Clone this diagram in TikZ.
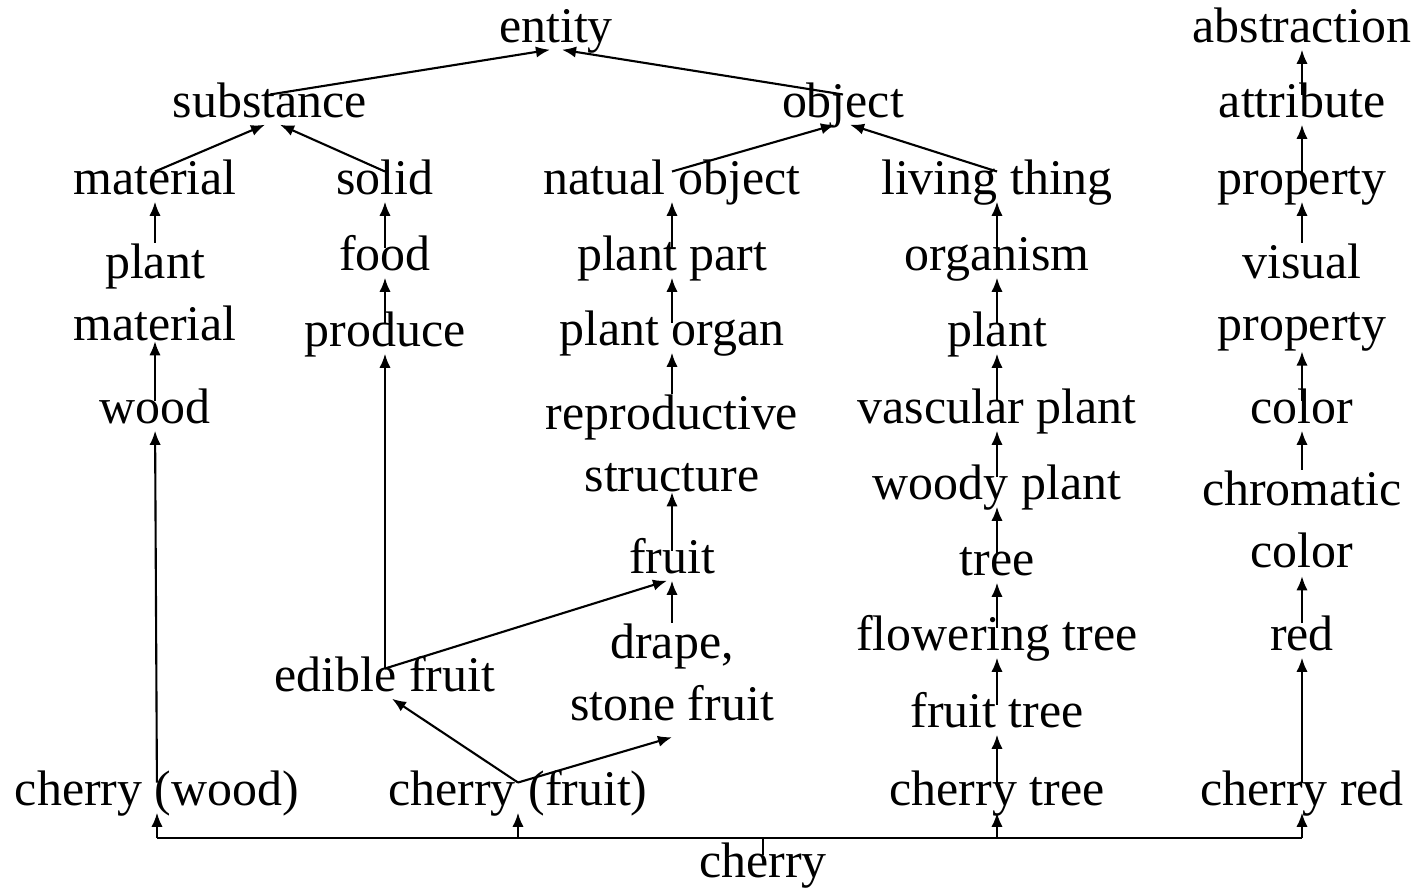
\documentclass[tikz,border=0pt]{standalone}
\usepackage{fontspec}
\setmainfont{Liberation Serif}
\usetikzlibrary{arrows.meta}
\newcommand\termfont{\fontsize{14.2}{17.6}\selectfont}
\tikzset{
	term/.style={font=\termfont,inner sep=0pt,anchor=base,align=center,text height=0.62em,text depth=0.2em},
	twoline/.style={text height={},text depth={}}
}

\begin{document}
\begin{tikzpicture}
			\useasboundingbox (0,0) rectangle (14.2,-8.92);
			\begin{scope}[every node/.style={term}]
				\node (entity) at (5.56,-0.42) {entity};
				\node (abstr) at (13.02,-0.42) {abstraction};
				\node (subst) at (2.70,-1.17) {substance};
				\node (object) at (8.43,-1.17) {object};
				\node (attr) at (13.02,-1.17) {attribute};
				% row 3
				\node (mat) at (1.55,-1.94) {material};
				\node (solid) at (3.85,-1.94) {solid};
				\node (natobj) at (6.72,-1.94) {natual object};
				\node (living) at (9.97,-1.94) {living thing};
				\node (prop) at (13.02,-1.94) {property};
				% column 1
				\node [twoline] (plantmat) at (1.55,-3.40) {plant\\material};
				\node (wood) at (1.55,-4.23) {wood};
				% column 2
				\node (food) at (3.85,-2.70) {food};
				\node (produce) at (3.85,-3.46) {produce};
				\node (edible) at (3.85,-6.91) {edible fruit};
				% column 3
				\node (ppart) at (6.72,-2.70) {plant part};
				\node (porgan) at (6.72,-3.45) {plant organ};
				\node [twoline] (repro) at (6.72,-4.91) {reproductive\\structure};
				\node (fruit) at (6.72,-5.73) {fruit};
				\node [twoline] (drupe) at (6.72,-7.20) {drape,\\stone fruit};
				% column 4
				\node (organism) at (9.97,-2.70) {organism};
				\node (plant) at (9.97,-3.46) {plant};
				\node (vasc) at (9.97,-4.23) {vascular plant};
				\node (woody) at (9.97,-4.99) {woody plant};
				\node (tree) at (9.97,-5.75) {tree};
				\node (flower) at (9.97,-6.50) {flowering tree};
				\node (ftree) at (9.97,-7.27) {fruit tree};
				% column 5
				\node [twoline] (visprop) at (13.02,-3.40) {visual\\property};
				\node (color) at (13.02,-4.23) {color};
				\node [twoline] (chroma) at (13.02,-5.67) {chromatic\\color};
				\node (red) at (13.02,-6.50) {red};
				% cherry senses
				\node (cwood) at (1.57,-8.05) {cherry (wood)};
				\node (cfruit) at (5.18,-8.05) {cherry (fruit)};
				\node (ctree) at (9.97,-8.05) {cherry tree};
				\node (cred) at (13.02,-8.05) {cherry red};
				\node (cherry) at (7.63,-8.77) {cherry};
			\end{scope}
			
			\coordinate (bus) at (0,-8.38);
			
			\begin{scope}[every edge/.style={draw=black,line width=0.6pt},>={Latex[length=4pt,width=3.2pt]}]
				\path [->] (subst.north) edge ([xshift=-0.06cm]entity.south);
				\path [->] (object.north) edge ([xshift=0.06cm]entity.south);
				\path [->] (mat.north) edge ([xshift=-0.05cm]subst.south);
				\path [->] (solid.north) edge ([xshift=0.10cm]subst.south);
				\path [->] (natobj.north) edge ([xshift=-0.08cm]object.south);
				\path [->] (living.north) edge ([xshift=0.07cm]object.south);
				\path [->] (attr) edge (abstr);
				\path [->] (prop) edge (attr);
				% vertical chains
				\path [->] (plantmat) edge (mat);
				\path [->] (wood) edge (plantmat);
				\path [->] (food) edge (solid);
				\path [->] (produce) edge (food);
				\path [->] (ppart) edge (natobj);
				\path [->] (porgan) edge (ppart);
				\path [->] (repro) edge (porgan);
				\path [->] (fruit) edge (repro);
				\path [->] (drupe) edge (fruit);
				\path [->] (organism) edge (living);
				\path [->] (plant) edge (organism);
				\path [->] (vasc) edge (plant);
				\path [->] (woody) edge (vasc);
				\path [->] (tree) edge (woody);
				\path [->] (flower) edge (tree);
				\path [->] (ftree) edge (flower);
				\path [->] (ctree) edge (ftree);
				\path [->] (visprop) edge (prop);
				\path [->] (color) edge (visprop);
				\path [->] (chroma) edge (color);
				\path [->] ([yshift=0.05cm]red.north) edge ([yshift=-0.08cm]chroma.south);
				\path [->] (cred) edge (red);
				\path [->] (cwood) edge (wood);
				% edible fruit and cherry (fruit)
				\path [->] (edible.north) edge (produce.south);
				\path [->] (edible.north) edge ([xshift=-0.05cm]fruit.south);
				\path [->] (cfruit.north) edge ([xshift=0.07cm]edible.south);
				\path [->] (cfruit.north) edge ([yshift=-0.16cm]drupe.south);
				% cherry to its senses
				\path (cherry.north) edge (cherry.north |- bus);
				\path (cwood.south |- bus) edge (cred.south |- bus);
				\path [->] (cwood.south |- bus) edge (cwood.south);
				\path [->] (cfruit.south |- bus) edge (cfruit.south);
				\path [->] (ctree.south |- bus) edge (ctree.south);
				\path [->] (cred.south |- bus) edge (cred.south);
			\end{scope}
		\end{tikzpicture}
\end{document}
